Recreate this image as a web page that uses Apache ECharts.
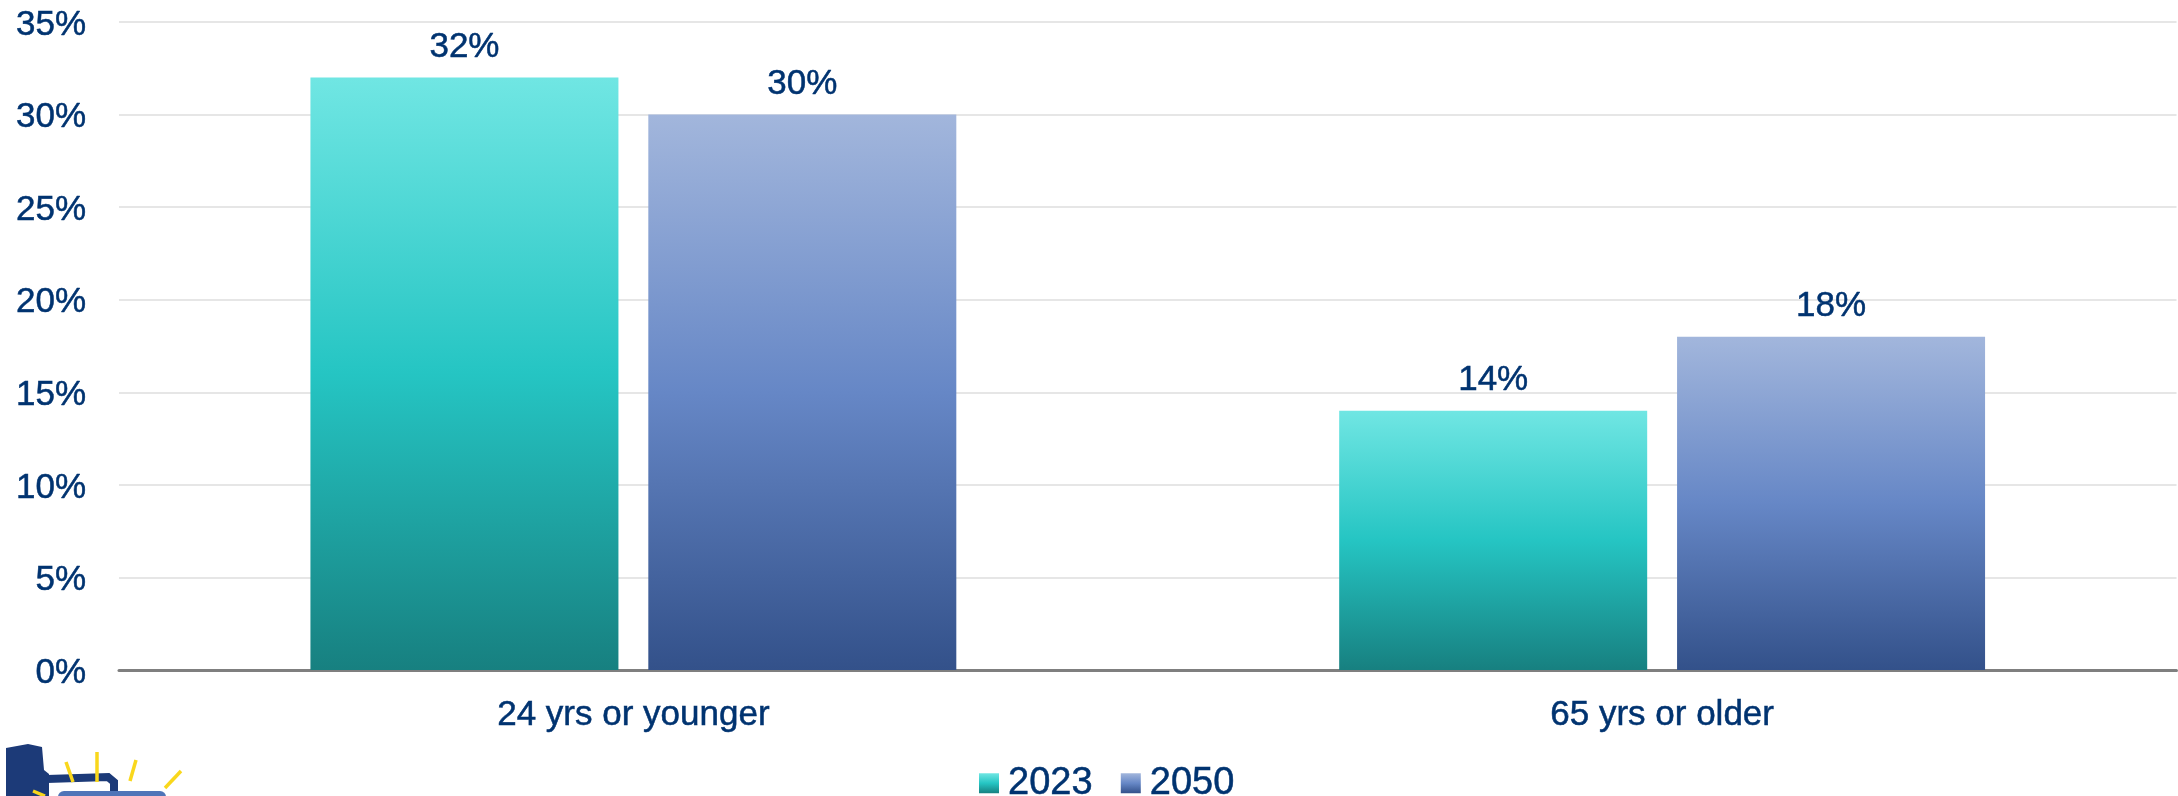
<!DOCTYPE html>
<html>
<head>
<meta charset="utf-8">
<title>Age groups 2023 vs 2050</title>
<script src="https://cdn.jsdelivr.net/npm/echarts@6/dist/echarts.min.js"></script>
<style>
  html, body { margin: 0; padding: 0; background: #fff; }
  #chart { width: 2178px; height: 796px; }
</style>
</head>
<body>
<div id="chart"></div>
<script>
const categories = ['24 yrs or younger', '65 yrs or older']
const values2023 = [32, 14]
const values2050 = [30, 18]

const TEXT = '#003370'
const FONT = '"Liberation Sans", Arial, sans-serif'
// the original face is a bit heavier than Liberation Sans
const heavier = { textBorderColor: TEXT, textBorderWidth: 0.5 }

function vgrad(top, mid, bottom) {
  return new echarts.graphic.LinearGradient(0, 0, 0, 1, [
    { offset: 0, color: top },
    { offset: 0.5, color: mid },
    { offset: 1, color: bottom },
  ])
}

function barSeries(name, data, color) {
  return {
    name,
    type: 'bar',
    data,
    barWidth: 308,
    barGap: '9.7%',
    itemStyle: { color },
    label: {
      show: true,
      position: 'top',
      distance: 13,
      formatter: '{c}%',
      color: TEXT,
      fontFamily: FONT,
      fontSize: 35,
      ...heavier,
    },
  }
}

// clipped clip-art in the bottom left corner, decoration only
function ray(x1, y1, x2, y2) {
  return {
    type: 'line',
    shape: { x1, y1, x2, y2 },
    style: { stroke: '#f9d71c', lineWidth: 3.5 },
  }
}
const iconParts = [
  {
    type: 'polygon',
    shape: { points: [[6, 748], [28, 744], [42, 747], [44, 770], [49, 774], [49, 796], [6, 796]] },
    style: { fill: '#1c3a78' },
  },
  {
    type: 'polyline',
    shape: { points: [[47, 779], [108, 777], [114, 782], [114, 796]] },
    style: { stroke: '#1c3a78', fill: 'none', lineWidth: 8 },
  },
  {
    type: 'rect',
    shape: { x: 58, y: 791, width: 108, height: 12, r: 6 },
    style: { fill: '#4f74b8' },
  },
  ray(66, 762, 73, 782),
  ray(97, 752, 97, 782),
  ray(136, 760, 130, 781),
  ray(181, 771, 165, 788),
  ray(33, 791, 45, 796),
]

const chart = echarts.init(document.getElementById('chart'))
chart.setOption({
  animation: false,
  backgroundColor: '#fff',
  grid: { left: 119, right: 1.5, top: 22, bottom: 126 },
  legend: {
    left: 979,
    top: 764,
    padding: 0,
    icon: 'rect',
    itemWidth: 20,
    itemHeight: 20,
    itemGap: 28,
    itemStyle: { borderWidth: 0 },
    textStyle: { color: TEXT, fontFamily: FONT, fontSize: 38, padding: [0, 0, 0, 4], ...heavier },
  },
  xAxis: {
    type: 'category',
    data: categories,
    axisTick: { show: false },
    axisLine: { lineStyle: { color: '#7f7f7f', width: 3 } },
    axisLabel: { color: TEXT, fontFamily: FONT, fontSize: 35, margin: 28, ...heavier },
  },
  yAxis: {
    type: 'value',
    min: 0,
    max: 35,
    interval: 5,
    axisLine: { show: false },
    axisTick: { show: false },
    splitLine: { lineStyle: { color: '#e6e6e6', width: 2 } },
    axisLabel: {
      color: TEXT,
      fontFamily: FONT,
      fontSize: 35,
      margin: 33,
      verticalAlign: 'top',
      lineHeight: 6,
      formatter: '{value}%',
      ...heavier,
    },
  },
  series: [
    barSeries('2023', values2023, vgrad('#70e6e3', '#25c5c3', '#178080')),
    barSeries('2050', values2050, vgrad('#a2b6dc', '#6687c6', '#33518a')),
  ],
  graphic: iconParts,
})
</script>
</body>
</html>
